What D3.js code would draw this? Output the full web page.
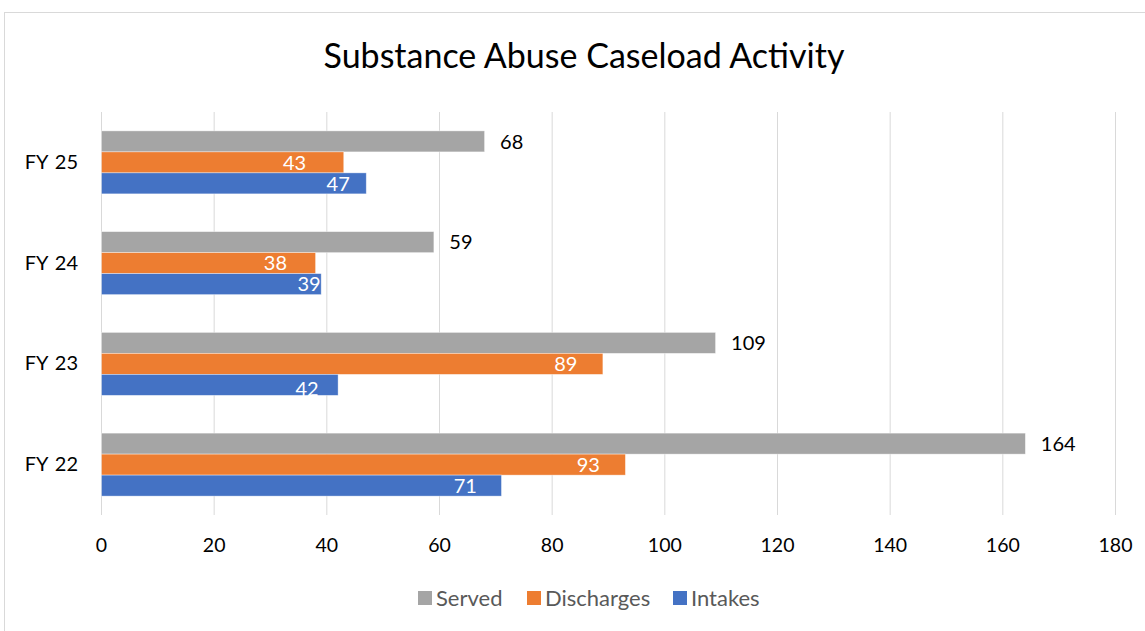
<!DOCTYPE html>
<html><head><meta charset="utf-8">
<script src="https://cdn.jsdelivr.net/npm/d3@7"></script>
<style>body{margin:0;background:#fff;} svg{display:block;font-family:Lato,"Open Sans",sans-serif;}</style>
</head><body>
<script>
const categories = ["FY 22", "FY 23", "FY 24", "FY 25"];
const seriesNames = ["Served", "Discharges", "Intakes"];
const served = [164, 109, 59, 68];
const discharges = [93, 89, 38, 43];
const intakes = [71, 42, 39, 47];
const ticks = [0, 20, 40, 60, 80, 100, 120, 140, 160, 180];
const colors = {"Served": "#A5A5A5", "Discharges": "#ED7D31", "Intakes": "#4472C4"};
const values = {"Served": served, "Discharges": discharges, "Intakes": intakes};
// label nudges (pixels from bar end, inside labels) as placed in the original
const dischargeLabelInset = [25, 25, 28, 37];
const intakeLabelInset = [24, 19, 0, 16];
const intakeLabelDrop = [0, 4, 0, 0];

const W = 1145, H = 631;
const svg = d3.select("body").append("svg").attr("width", W).attr("height", H);
svg.append("rect").attr("x", 4.5).attr("y", 12.5).attr("width", W + 10).attr("height", H + 10)
  .attr("fill", "#fff").attr("stroke", "#D9D9D9").attr("stroke-width", 1);

svg.append("text").attr("x", 584).attr("y", 68).attr("text-anchor", "middle")
  .attr("font-size", 34).attr("fill", "#000").text("Substance Abuse Caseload Activity");

const x = d3.scaleLinear().domain([0, 180]).range([101, 1115]);
const y = d3.scaleBand().domain(categories.slice().reverse()).range([112, 515]).paddingInner(0.375).paddingOuter(0.1875);
const inner = d3.scaleBand().domain(seriesNames).range([0, y.bandwidth()]);

svg.append("g").selectAll("line").data(ticks).join("line")
  .attr("x1", d => x(d) + 0.5).attr("x2", d => x(d) + 0.5)
  .attr("y1", 112).attr("y2", 515).attr("stroke", "#D9D9D9").attr("stroke-width", 1);

const xa = svg.append("g").attr("transform", "translate(0,515)")
  .call(d3.axisBottom(x).tickValues(ticks).tickSize(0).tickPadding(23));
xa.select(".domain").remove();
xa.selectAll("text").attr("font-size", 19.5).attr("fill", "#000").attr("font-family", "Lato,'Open Sans',sans-serif");

const ya = svg.append("g").attr("transform", "translate(101,0)")
  .call(d3.axisLeft(y).tickSize(0).tickPadding(23));
ya.select(".domain").remove();
ya.selectAll("text").attr("font-size", 20).attr("fill", "#000").attr("font-family", "Lato,'Open Sans',sans-serif")
  .attr("word-spacing", "2px");

const rows = [];
categories.forEach((c, i) => seriesNames.forEach(s => {
  let inset = 0, drop = 0;
  if (s === "Discharges") inset = dischargeLabelInset[i];
  if (s === "Intakes") { inset = intakeLabelInset[i]; drop = intakeLabelDrop[i]; }
  rows.push({c, s, v: values[s][i], inset, drop});
}));

const g = svg.append("g");
g.selectAll("rect").data(rows).join("rect")
  .attr("x", x(0) + 0.5)
  .attr("y", d => y(d.c) + inner(d.s))
  .attr("width", d => x(d.v) - x(0))
  .attr("height", inner.bandwidth())
  .attr("fill", d => colors[d.s])
  .attr("stroke", "#fff").attr("stroke-opacity", 0.5).attr("stroke-width", 0.75);

g.selectAll("text").data(rows).join("text")
  .attr("x", d => d.s === "Served" ? x(d.v) + 16 : x(d.v) - d.inset)
  .attr("y", d => y(d.c) + inner(d.s) + inner.bandwidth() / 2 + d.drop)
  .attr("dy", "0.36em")
  .attr("text-anchor", d => d.s === "Served" ? "start" : "end")
  .attr("font-size", 20)
  .attr("fill", d => d.s === "Served" ? "#000" : "#fff")
  .text(d => d.v);

const legendX = [418, 527, 673];
const lg = svg.append("g").selectAll("g").data(seriesNames).join("g")
  .attr("transform", (d, i) => `translate(${legendX[i]},598)`);
lg.append("rect").attr("x", 0).attr("y", -7).attr("width", 14).attr("height", 14).attr("fill", d => colors[d]);
lg.append("text").attr("x", 18).attr("y", 0).attr("dy", "0.36em").attr("font-size", 22).attr("fill", "#595959").text(d => d);
</script>
</body></html>
